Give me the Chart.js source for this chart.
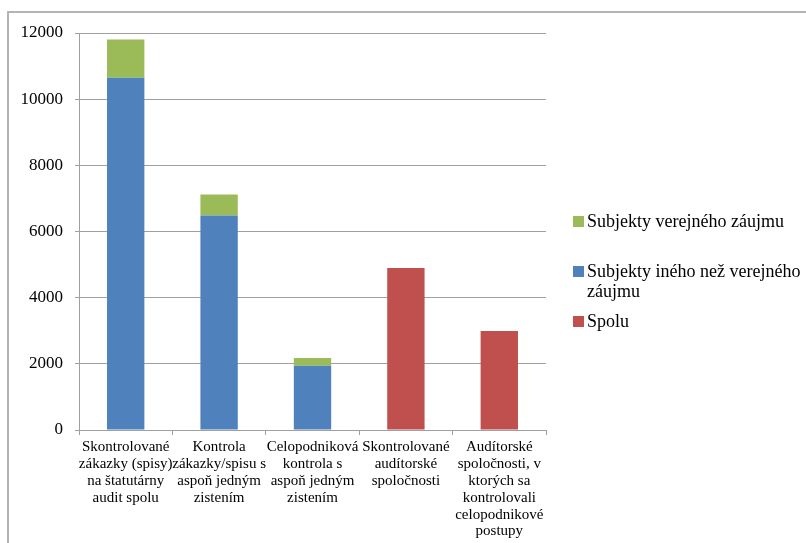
<!DOCTYPE html>
<html lang="sk">

<head>
    <meta charset="UTF-8" />
    <title>Kontroly štatutárneho auditu</title>
    <style>
        * {
            margin: 0;
            padding: 0;
            box-sizing: border-box;
        }

        body {
            width: 806px;
            height: 543px;
            overflow: hidden;
            background: #ffffff;
            font-family: "Liberation Serif", "Times New Roman", serif;
        }

        .frame {
            position: absolute;
            left: 7px;
            top: 11px;
            width: 820px;
            height: 560px;
            border-top: 2px solid #b4b4b4;
            border-left: 2px solid #b4b4b4;
        }

        #chart-box {
            position: absolute;
            left: 0;
            top: 0;
            width: 806px;
            height: 543px;
        }

        #legend {
            position: absolute;
            left: 573px;
            top: 0;
        }

        .legend-item {
            position: absolute;
            left: 0;
            width: 232px;
            font-size: 18px;
            line-height: 20px;
            color: #000;
        }

        .legend-item span.box {
            position: absolute;
            left: 0;
            top: 5px;
            width: 11px;
            height: 11px;
        }

        .legend-item span.txt {
            display: block;
            margin-left: 14px;
            width: 216px;
        }
    </style>
</head>

<body>
    <div class="frame"></div>
    <div id="chart-box">
        <canvas id="chart" width="806" height="543"></canvas>
    </div>
    <div id="legend"></div>

    <script src="https://cdn.jsdelivr.net/npm/chart.js@4.4.1/dist/chart.umd.min.js"></script>
    <script>
        // categories (x axis labels, split into lines like the original)
        const categories = [
            ["Skontrolované", "zákazky (spisy)", "na štatutárny", "audit spolu"],
            ["Kontrola", "zákazky/spisu s", "aspoň jedným", "zistením"],
            ["Celopodniková", "kontrola s", "aspoň jedným", "zistením"],
            ["Skontrolované", "audítorské", "spoločnosti"],
            ["Audítorské", "spoločnosti, v", "ktorých sa", "kontrolovali", "celopodnikové", "postupy"]
        ];

        // series values
        const otherSubjects = [10650, 6480, 1940, null, null];
        const publicInterest = [1150, 640, 240, null, null];
        const total = [null, null, null, 4900, 2990];

        const seriesNames = ["Subjekty verejného záujmu", "Subjekty iného než verejného záujmu", "Spolu"];
        const seriesColors = ["#9bbb59", "#4f81bd", "#c0504d"];

        // y axis
        const yTicks = [0, 2000, 4000, 6000, 8000, 10000, 12000];

        const gridGray = "#a0a0a0";
        const serifFont = "'Liberation Serif', 'Times New Roman', serif";

        const ctx = document.getElementById("chart");

        new Chart(ctx, {
            type: "bar",
            data: {
                labels: categories,
                datasets: [
                    { label: seriesNames[1], data: otherSubjects, backgroundColor: seriesColors[1] },
                    { label: seriesNames[0], data: publicInterest, backgroundColor: seriesColors[0] },
                    { label: seriesNames[2], data: total, backgroundColor: seriesColors[2] }
                ]
            },
            options: {
                responsive: false,
                animation: false,
                categoryPercentage: 1,
                barPercentage: 0.4,
                layout: {
                    padding: { left: 0, right: 260, top: 33, bottom: 0 }
                },
                plugins: {
                    legend: { display: false },
                    tooltip: { enabled: false }
                },
                scales: {
                    x: {
                        stacked: true,
                        grid: {
                            offset: true,
                            drawOnChartArea: false,
                            drawTicks: true,
                            tickLength: 5,
                            color: gridGray
                        },
                        border: { color: gridGray },
                        ticks: {
                            color: "#000",
                            padding: 4,
                            maxRotation: 0,
                            autoSkip: false,
                            font: { family: serifFont, size: 15, lineHeight: 1.12 }
                        },
                        afterFit: (scale) => { scale.height = 113; }
                    },
                    y: {
                        stacked: true,
                        min: yTicks[0],
                        max: yTicks[yTicks.length - 1],
                        grid: {
                            color: gridGray,
                            tickLength: 4
                        },
                        border: { color: gridGray },
                        ticks: {
                            stepSize: 2000,
                            color: "#000",
                            padding: 12,
                            font: { family: serifFont, size: 17 },
                            callback: (v) => String(v)
                        },
                        afterFit: (scale) => { scale.width = 79; }
                    }
                }
            }
        });

        // legend on the right, same order as the original
        const legend = document.getElementById("legend");
        const legendTops = [211, 261, 311];
        seriesNames.forEach((name, i) => {
            const item = document.createElement("div");
            item.className = "legend-item";
            item.style.top = legendTops[i] + "px";
            item.innerHTML = `<span class="box" style="background:${seriesColors[i]}"></span><span class="txt">${name}</span>`;
            legend.appendChild(item);
        });
    </script>
</body>

</html>
